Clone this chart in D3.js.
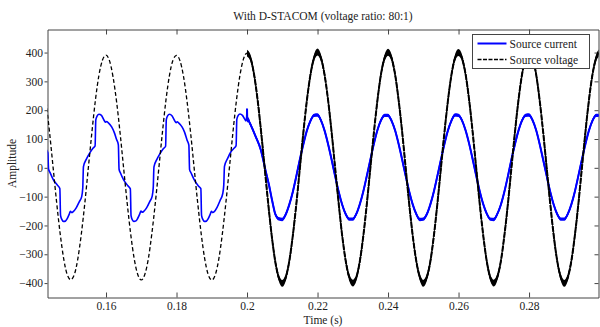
<!DOCTYPE html>
<html>
<head>
<meta charset="utf-8">
<script src="https://cdn.jsdelivr.net/npm/d3@7"></script>
<style>
  html, body { margin: 0; padding: 0; background: #fff; }
  svg text { font-family: "Liberation Serif", "Times New Roman", serif; fill: #222; }
</style>
</head>
<body>
<div id="chart"></div>
<script>
// source voltage, sampled every 1 ms from 0.143 s
const voltageStart = 0.143;
const voltageStep = 0.001;
const voltageValues = [
  229, 121, 0, -121, -229, -316, -371, -388, -371, -316, -229, -121, 2, 124, 236, 322, 374, 391, 371, 315,
  229, 120, -2, -122, -230, -316, -370, -389, -370, -316, -228, -120, 1, 123, 235, 321, 374, 390, 371, 316,
  229, 121, -1, -121, -229, -316, -371, -389, -371, -316, -229, -121, 0, 123, 234, 322, 378, 398, 380, 324,
  236, 124, 1, -123, -235, -325, -381, -401, -380, -323, -234, -124, 0, 125, 236, 324, 381, 402, 380, 323,
  234, 123, -1, -124, -236, -324, -380, -400, -381, -324, -235, -123, 1, 124, 235, 325, 380, 401, 381, 324,
  235, 125, 0, -125, -235, -323, -379, -401, -380, -325, -236, -124, -1, 123, 234, 324, 381, 400, 380, 324,
  236, 124, 1, -124, -234, -324, -381, -400, -379, -324, -235, -125, 0, 124, 235, 323, 380, 401, 381, 325,
  235, 124, 0, -123, -235, -324, -380, -401, -380, -323, -234, -124, 1, 125, 236, 324, 380, 400,
];

// source current before compensation (distorted), read point by point
const currentTimes = [
  0.1428, 0.1435, 0.1437, 0.1441, 0.1450, 0.1462, 0.1469, 0.1471, 0.1475, 0.1479, 0.1485, 0.1490, 0.1496,
  0.1499, 0.1503, 0.1507, 0.1515, 0.1524, 0.1531, 0.1534, 0.1536, 0.1545, 0.1554, 0.1563, 0.1569, 0.1571,
  0.1575, 0.1580, 0.1587, 0.1594, 0.1599, 0.1602, 0.1606, 0.1616, 0.1623, 0.1630, 0.1635, 0.1637,
  0.1641, 0.1650, 0.1662, 0.1669, 0.1671, 0.1675, 0.1679, 0.1685, 0.1690, 0.1696, 0.1699, 0.1703, 0.1707,
  0.1715, 0.1724, 0.1731, 0.1734, 0.1736, 0.1745, 0.1754, 0.1763, 0.1769, 0.1771, 0.1775, 0.1780, 0.1787,
  0.1794, 0.1799, 0.1802, 0.1806, 0.1816, 0.1823, 0.1830, 0.1835, 0.1837,
  0.1841, 0.1850, 0.1862, 0.1869, 0.1871, 0.1875, 0.1879, 0.1885, 0.1890, 0.1896, 0.1899, 0.1903, 0.1907,
  0.1915, 0.1924, 0.1931, 0.1934, 0.1936, 0.1945, 0.1954, 0.1963, 0.1969, 0.1971, 0.1975, 0.1980, 0.1987,
  0.1993, 0.1997, 0.1999, 0.2000, 0.2001, 0.2003, 0.2006, 0.2010, 0.2024, 0.2039, 0.2053, 0.2062, 0.2072,
];
const currentValues = [
  66, 52, -4, -16, -40, -60, -72, -165, -180, -186, -185, -176, -160,
  -151, -155, -152, -140, -118, -100, -70, 4, 32, 52, 68, 76, 166,
  180, 186, 182, 166, 158, 161, 157, 142, 124, 98, 80, -5,
  -18, -42, -62, -73, -166, -181, -186, -184, -175, -159, -150, -154, -151,
  -139, -117, -98, -68, 3, 31, 51, 67, 75, 167, 181, 186, 181,
  165, 157, 160, 156, 141, 123, 96, 79, -6,
  -17, -41, -63, -72, -165, -180, -186, -185, -176, -160, -151, -155, -152,
  -137, -112, -90, -60, 5, 33, 55, 68, 77, 168, 182, 187, 182,
  170, 163, 178, 205, 162, 170, 160, 150, 110, 63, -12, -58, -118,
];

// source current after compensation, sampled every 1 ms from 0.208 s
const steadyStart = 0.208;
const steadyStep = 0.001;
const steadyCurrent = [
  -160, -177, -179, -161, -127, -83, -28, 30, 83, 130, 163, 182, 183, 164, 129, 82, 28, -29, -83, -128,
  -161, -178, -178, -160, -126, -81, -27, 29, 84, 131, 165, 182, 182, 163, 130, 83, 29, -28, -82, -127,
  -160, -179, -178, -161, -127, -82, -28, 28, 83, 130, 164, 183, 182, 164, 130, 84, 30, -27, -81, -126,
  -159, -178, -179, -160, -128, -83, -29, 29, 82, 129, 164, 182, 183, 165, 131, 83, 28, -28, -83, -128,
  -161, -178, -178, -160, -127, -82, -27, 29, 83, 130, 164, 182, 182,
];

// switching ripple seen once the D-STACOM is on
const rippleFrom = 0.2;
const voltageRipple = 12;
const currentRipple = 6;

const xDomain = [0.1434, 0.2997];
const yDomain = [-450, 480];
const xTicks = [0.16, 0.18, 0.2, 0.22, 0.24, 0.26, 0.28];
const yTicks = [-400, -300, -200, -100, 0, 100, 200, 300, 400];
const seriesNames = ['Source current', 'Source voltage'];
const titleText = 'With D-STACOM (voltage ratio: 80:1)';

class WaveformChart {
  constructor(props) {
    const defaultProps = {
      containerDivId: 'chart',
      width: 600,
      height: 327,
      margin: { top: 29.5, right: 1.5, bottom: 29.5, left: 47.5 },
      currentColor: '#0000ff',
      voltageColor: '#000',
      axisColor: '#444',
      fontSize: 11.5,
    };
    this.props = Object.assign({}, defaultProps, props);
  }

  buildData() {
    this.voltage = voltageValues.map((v, i) => ({ t: +(voltageStart + i * voltageStep).toFixed(4), v }));
    this.current = currentTimes
      .map((t, i) => ({ t, v: currentValues[i] }))
      .concat(steadyCurrent.map((v, i) => ({ t: +(steadyStart + i * steadyStep).toFixed(4), v })));
  }

  renderFrame() {
    const { containerDivId, width, height, margin, axisColor, fontSize } = this.props;
    const innerW = width - margin.left - margin.right;
    const innerH = height - margin.top - margin.bottom;

    this.svg = d3.select(`#${containerDivId}`)
      .append('svg')
      .attr('width', width)
      .attr('height', height)
      .attr('viewBox', `0 0 ${width} ${height}`);

    this.x = d3.scaleLinear().domain(xDomain).range([margin.left, margin.left + innerW]);
    this.y = d3.scaleLinear().domain(yDomain).range([margin.top + innerH, margin.top]);

    this.svg.append('clipPath').attr('id', 'plot-clip')
      .append('rect')
      .attr('x', margin.left).attr('y', margin.top)
      .attr('width', innerW).attr('height', innerH);

    const styleAxis = (g) => {
      g.selectAll('path, line').attr('stroke', axisColor);
      g.selectAll('text').attr('font-size', fontSize).attr('fill', '#222');
    };

    this.svg.append('g')
      .attr('transform', `translate(0,${margin.top + innerH})`)
      .call(d3.axisBottom(this.x).tickValues(xTicks).tickFormat(d3.format('')).tickSizeInner(-5).tickSizeOuter(0).tickPadding(4.5))
      .call(styleAxis);

    this.svg.append('g')
      .attr('transform', `translate(0,${margin.top})`)
      .call(d3.axisTop(this.x).tickValues(xTicks).tickFormat('').tickSizeInner(-5).tickSizeOuter(0))
      .call(styleAxis);

    this.svg.append('g')
      .attr('transform', `translate(${margin.left},0)`)
      .call(d3.axisLeft(this.y).tickValues(yTicks).tickFormat(d3.format('')).tickSizeInner(3).tickSizeOuter(0).tickPadding(1.5))
      .call(styleAxis);

    this.svg.append('g')
      .attr('transform', `translate(${margin.left + innerW},0)`)
      .call(d3.axisRight(this.y).tickValues(yTicks).tickFormat('').tickSizeInner(-4).tickSizeOuter(0))
      .call(styleAxis);

    const cx = margin.left + innerW / 2;
    this.svg.append('text')
      .attr('x', cx).attr('y', 20)
      .attr('text-anchor', 'middle')
      .attr('font-size', fontSize)
      .text(titleText);

    this.svg.append('text')
      .attr('x', cx).attr('y', 324)
      .attr('text-anchor', 'middle')
      .attr('font-size', fontSize)
      .text('Time (s)');

    this.svg.append('text')
      .attr('transform', `translate(16,${margin.top + innerH / 2}) rotate(-90)`)
      .attr('text-anchor', 'middle')
      .attr('font-size', fontSize)
      .text('Amplitude');
  }

  renderSeries() {
    const { currentColor, voltageColor } = this.props;
    const { x, y } = this;
    const plot = this.svg.append('g').attr('clip-path', 'url(#plot-clip)');

    const line = d3.line().x((d) => x(d.t)).y((d) => y(d.v)).curve(d3.curveMonotoneX);
    const band = (r) => d3.area()
      .x((d) => x(d.t))
      .y0((d) => y(d.v - r))
      .y1((d) => y(d.v + r))
      .curve(d3.curveMonotoneX);

    const currentLate = this.current.filter((d) => d.t >= rippleFrom);
    const voltageLate = this.voltage.filter((d) => d.t >= rippleFrom);

    plot.append('path')
      .datum(currentLate)
      .attr('fill', currentColor)
      .attr('d', band(currentRipple));

    plot.append('path')
      .datum(this.current)
      .attr('fill', 'none')
      .attr('stroke', currentColor)
      .attr('stroke-width', 1.6)
      .attr('d', line);

    plot.append('path')
      .datum(currentLate)
      .attr('fill', 'none')
      .attr('stroke', currentColor)
      .attr('stroke-width', 2)
      .attr('d', line);

    plot.append('path')
      .datum(voltageLate)
      .attr('fill', voltageColor)
      .attr('d', band(voltageRipple));

    plot.append('path')
      .datum(this.voltage)
      .attr('fill', 'none')
      .attr('stroke', voltageColor)
      .attr('stroke-width', 1.3)
      .attr('stroke-dasharray', '4,2.5')
      .attr('d', line);

    plot.append('path')
      .datum(voltageLate)
      .attr('fill', 'none')
      .attr('stroke', voltageColor)
      .attr('stroke-width', 2)
      .attr('stroke-dasharray', '6,1')
      .attr('d', line);
  }

  renderLegend() {
    const { currentColor, voltageColor, axisColor, fontSize } = this.props;
    const g = this.svg.append('g').attr('transform', 'translate(472.5,34.5)');

    g.append('rect')
      .attr('width', 117).attr('height', 34)
      .attr('fill', '#fff')
      .attr('stroke', axisColor);

    const rows = g.selectAll('g.row')
      .data(seriesNames)
      .join('g')
      .attr('class', 'row')
      .attr('transform', (d, i) => `translate(0,${9 + i * 16})`);

    rows.append('line')
      .attr('x1', 5).attr('x2', 34)
      .attr('stroke', (d, i) => (i === 0 ? currentColor : voltageColor))
      .attr('stroke-width', (d, i) => (i === 0 ? 2 : 1.6))
      .attr('stroke-dasharray', (d, i) => (i === 0 ? null : '4,1.5'));

    rows.append('text')
      .attr('x', 37).attr('y', 4)
      .attr('font-size', fontSize)
      .text((d) => d);
  }

  render() {
    this.buildData();
    this.renderFrame();
    this.renderSeries();
    this.renderLegend();
  }
}

new WaveformChart().render();
</script>
</body>
</html>
